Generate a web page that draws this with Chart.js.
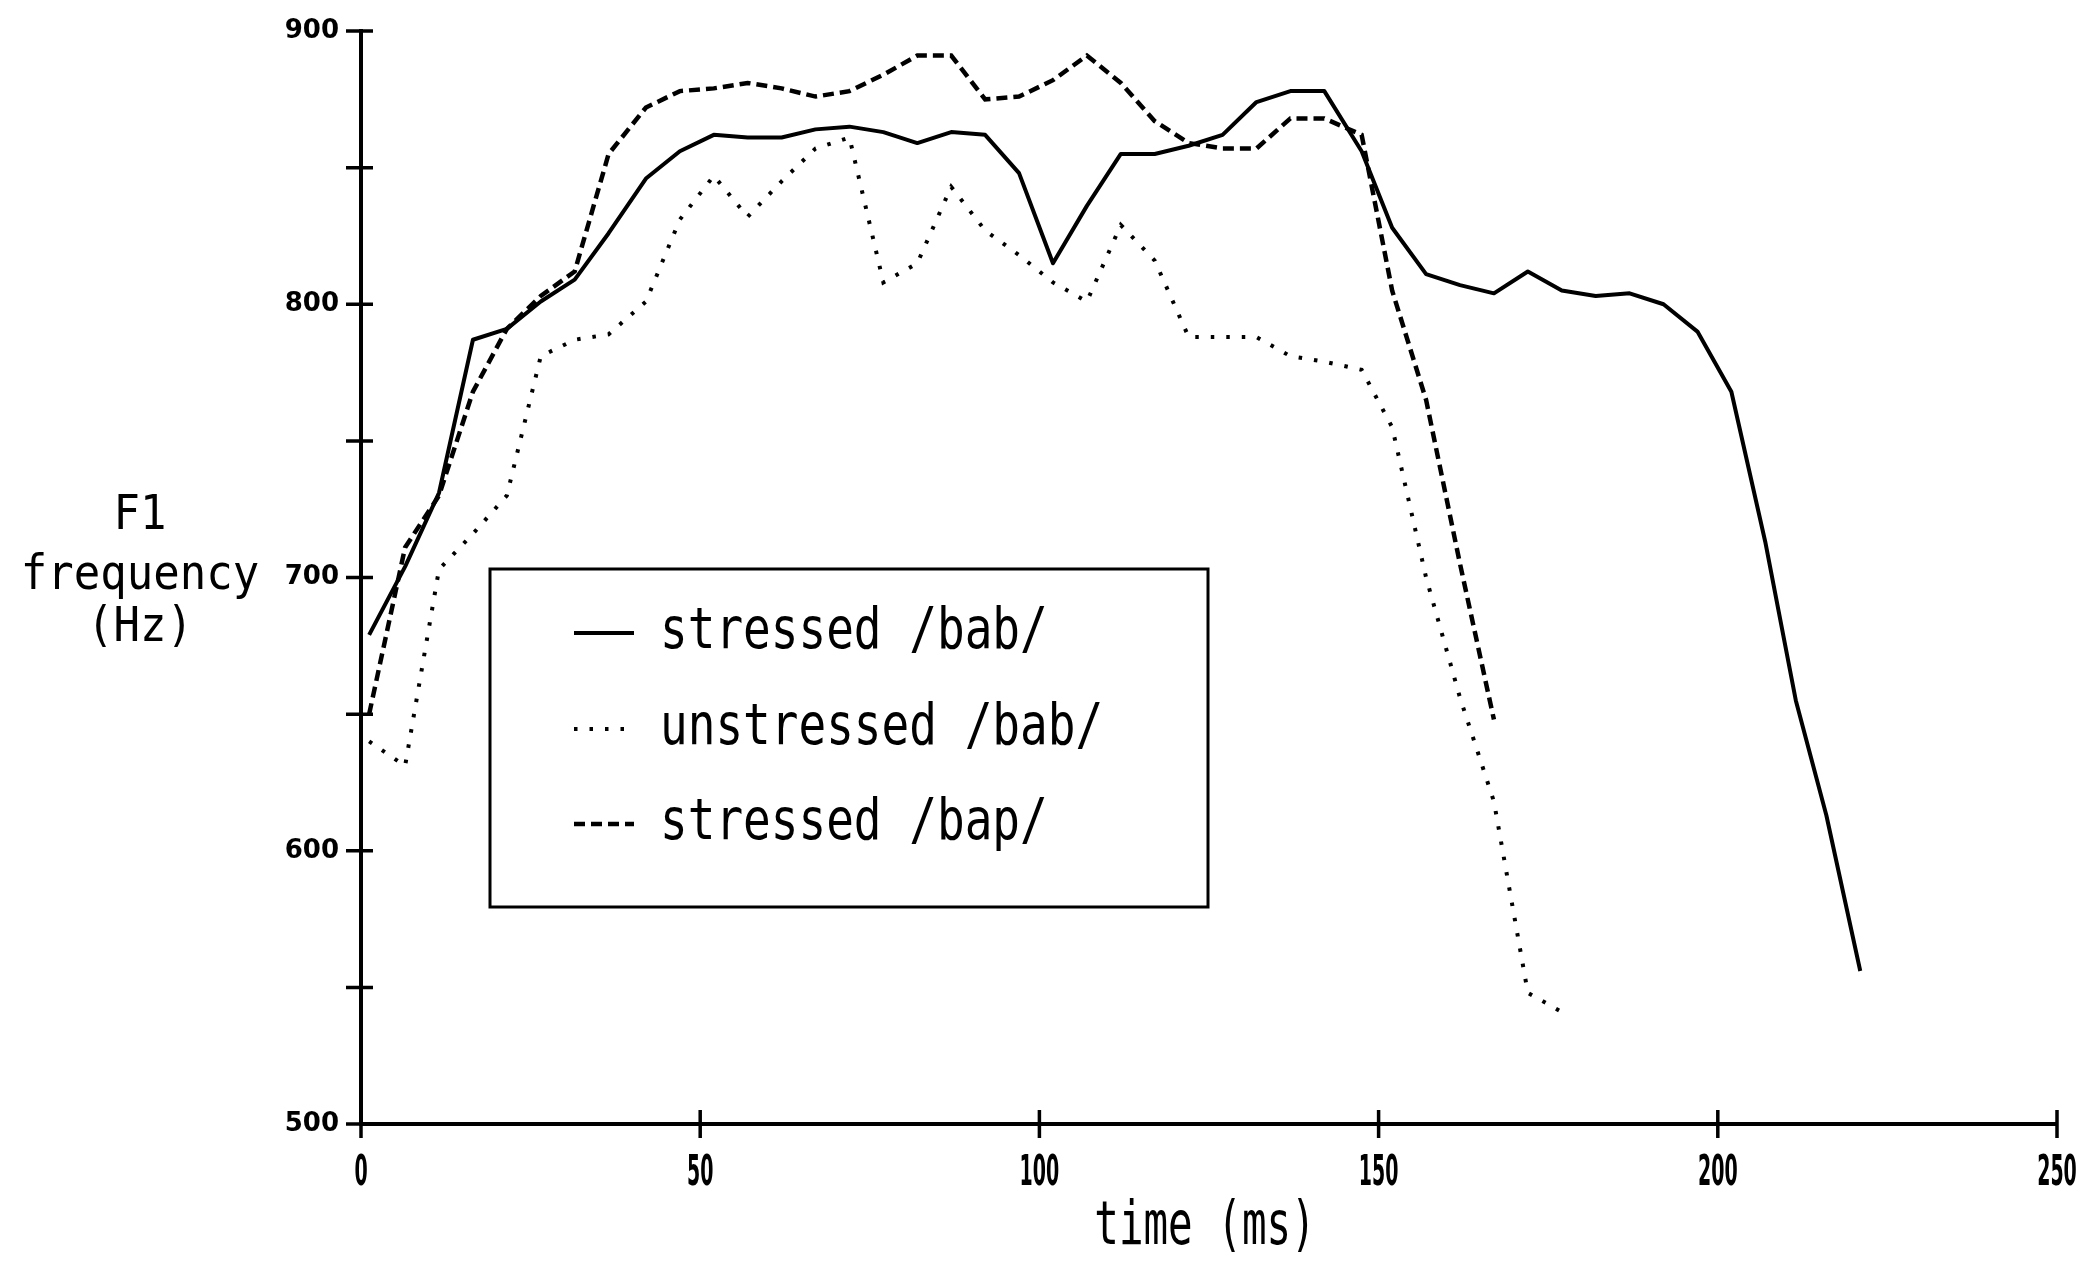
<!DOCTYPE html>
<html>
<head>
<meta charset="utf-8">
<script src="https://cdn.jsdelivr.net/npm/chart.js@4.4.1/dist/chart.umd.min.js"></script>
<style>
  html, body { margin: 0; padding: 0; background: #fff; }
  #wrap { width: 2090px; height: 1261px; }
</style>
</head>
<body>
<div id="wrap"><canvas id="c" width="2090" height="1261"></canvas></div>
<script>
// ---- data ----
const times = [1.2, 6.5, 11.5, 16.5, 21.5, 26.5, 31.5, 36.5, 42, 47, 52, 57, 62, 67, 72, 77, 82, 87, 92, 97,
               102, 107, 112, 117, 122, 127, 132, 137, 142, 147.5, 152, 157, 162, 167, 172, 177, 182, 187,
               192, 197, 202, 207, 211.5, 216, 221];

const stressedBab = [679, 704, 731, 787, 791, 801, 809, 826, 846, 856, 862, 861, 861, 864, 865, 863, 859, 863,
                     862, 848, 815, 836, 855, 855, 858, 862, 874, 878, 878, 856, 828, 811, 807, 804, 812, 805,
                     803, 804, 800, 790, 768, 713, 655, 613, 556];

const unstressedBab = [640, 631, 703, 716, 730, 781, 787, 789, 801, 831, 847, 832, 845, 857, 861, 808, 815, 843,
                       827, 818, 808, 801, 829, 816, 788, 788, 788, 781, 779, 776, 755, 700, 656, 618, 548, 541];

const stressedBap = [650, 711, 730, 768, 791, 803, 812, 855, 872, 878, 879, 881, 879, 876, 878, 884, 891, 891,
                     875, 876, 882, 891, 881, 867, 859, 857, 857, 868, 868, 862, 805, 765, 705, 648];

const seriesLabels = ['stressed /bab/', 'unstressed /bab/', 'stressed /bap/'];
const xTickValues = [0, 50, 100, 150, 200, 250];
const yTickValues = [500, 600, 700, 800, 900];
const xTitle = 'time (ms)';
const yTitleLines = ['F1', 'frequency', '(Hz)'];

function pts(vals) { return vals.map((v, i) => ({ x: times[i], y: v })); }

const MONO = '"DejaVu Sans Mono", "Liberation Mono", monospace';

// draw text with a horizontal / vertical stretch (plotter-like lettering)
function stretchedText(ctx, text, x, y, font, sx, sy, align) {
  ctx.save();
  ctx.translate(x, y);
  ctx.scale(sx, sy);
  ctx.font = font;
  ctx.textAlign = align;
  ctx.textBaseline = 'middle';
  ctx.fillStyle = '#000';
  ctx.fillText(text, 0, 0);
  ctx.restore();
}

// crossing tick marks on both axes, and x tick labels
const crossTicks = {
  id: 'crossTicks',
  afterDraw(chart) {
    const ctx = chart.ctx, xs = chart.scales.x, ys = chart.scales.y;
    ctx.save();
    ctx.strokeStyle = '#000';
    ctx.lineWidth = 3.5;
    ctx.beginPath();
    ys.ticks.forEach(t => {
      const py = ys.getPixelForValue(t.value);
      ctx.moveTo(xs.left - 15, py); ctx.lineTo(xs.left + 12, py);
    });
    xs.ticks.forEach(t => {
      const px = xs.getPixelForValue(t.value);
      ctx.moveTo(px, ys.bottom - 14); ctx.lineTo(px, ys.bottom + 14);
    });
    ctx.stroke();
    ctx.restore();
    xs.ticks.forEach(t => {
      const px = xs.getPixelForValue(t.value);
      stretchedText(ctx, String(t.value), px, ys.bottom + 50, 'bold 38px "DejaVu Sans", sans-serif', 0.5, 1.12, 'center');
    });
  }
};

// axis titles and boxed legend
const annotations = {
  id: 'annotations',
  afterDraw(chart) {
    const ctx = chart.ctx;
    const ty = [516, 576, 628];
    yTitleLines.forEach((s, i) => stretchedText(ctx, s, 140, ty[i], '44px ' + MONO, 1.0, 1.1, 'center'));

    const xs = chart.scales.x;
    stretchedText(ctx, xTitle, (xs.left + xs.right) / 2 - 4, 1228, '43px ' + MONO, 0.95, 1.4, 'center');

    // legend box
    const bx = 490, by = 569, bw = 718, bh = 338;
    ctx.save();
    ctx.lineWidth = 3;
    ctx.strokeStyle = '#000';
    ctx.strokeRect(bx, by, bw, bh);
    ctx.restore();
    const rows = [633, 729, 824];
    chart.data.datasets.forEach((ds, i) => {
      ctx.save();
      ctx.strokeStyle = '#000';
      ctx.lineWidth = ds.borderWidth;
      ctx.setLineDash(ds.borderDash || []);
      ctx.lineCap = 'butt';
      ctx.beginPath();
      ctx.moveTo(574, rows[i]);
      ctx.lineTo(634, rows[i]);
      ctx.stroke();
      ctx.restore();
      stretchedText(ctx, ds.label, 660, rows[i], '46px ' + MONO, 1.0, 1.25, 'left');
    });
  }
};

new Chart(document.getElementById('c'), {
  type: 'line',
  data: {
    datasets: [
      { label: seriesLabels[0], data: pts(stressedBab), borderColor: '#000', borderWidth: 4,
        borderDash: [], pointRadius: 0, tension: 0, borderJoinStyle: 'round', fill: false },
      { label: seriesLabels[1], data: pts(unstressedBab), borderColor: '#000', borderWidth: 4,
        borderDash: [3.5, 12], pointRadius: 0, tension: 0, fill: false },
      { label: seriesLabels[2], data: pts(stressedBap), borderColor: '#000', borderWidth: 4.5,
        borderDash: [11, 6], pointRadius: 0, tension: 0, fill: false }
    ]
  },
  options: {
    responsive: false,
    animation: false,
    devicePixelRatio: 1,
    layout: { padding: { left: 0, right: 33, top: 31, bottom: 0 } },
    plugins: { legend: { display: false }, tooltip: { enabled: false } },
    scales: {
      x: {
        type: 'linear', min: 0, max: 250,
        afterBuildTicks: s => { s.ticks = xTickValues.map(v => ({ value: v })); },
        afterFit: s => { s.height = 137; s.paddingLeft = 0; s.paddingRight = 0; },
        grid: { display: false, drawTicks: false },
        border: { display: true, color: '#000', width: 4 },
        ticks: { display: false },
        title: { display: false }
      },
      y: {
        min: 500, max: 900,
        afterBuildTicks: s => {
          const arr = [];
          for (const v of yTickValues) { arr.push({ value: v }); if (v < 900) arr.push({ value: v + 50 }); }
          s.ticks = arr;
        },
        afterFit: s => { s.width = 361; s.paddingTop = 0; s.paddingBottom = 0; },
        grid: { display: false, drawTicks: false },
        border: { display: true, color: '#000', width: 4 },
        ticks: { color: '#000', padding: 22,
                 callback: v => (yTickValues.includes(v) ? String(v) : ''),
                 font: { family: '"DejaVu Sans", sans-serif', size: 26, weight: 'bold' } }
      }
    }
  },
  plugins: [crossTicks, annotations]
});
</script>
</body>
</html>
